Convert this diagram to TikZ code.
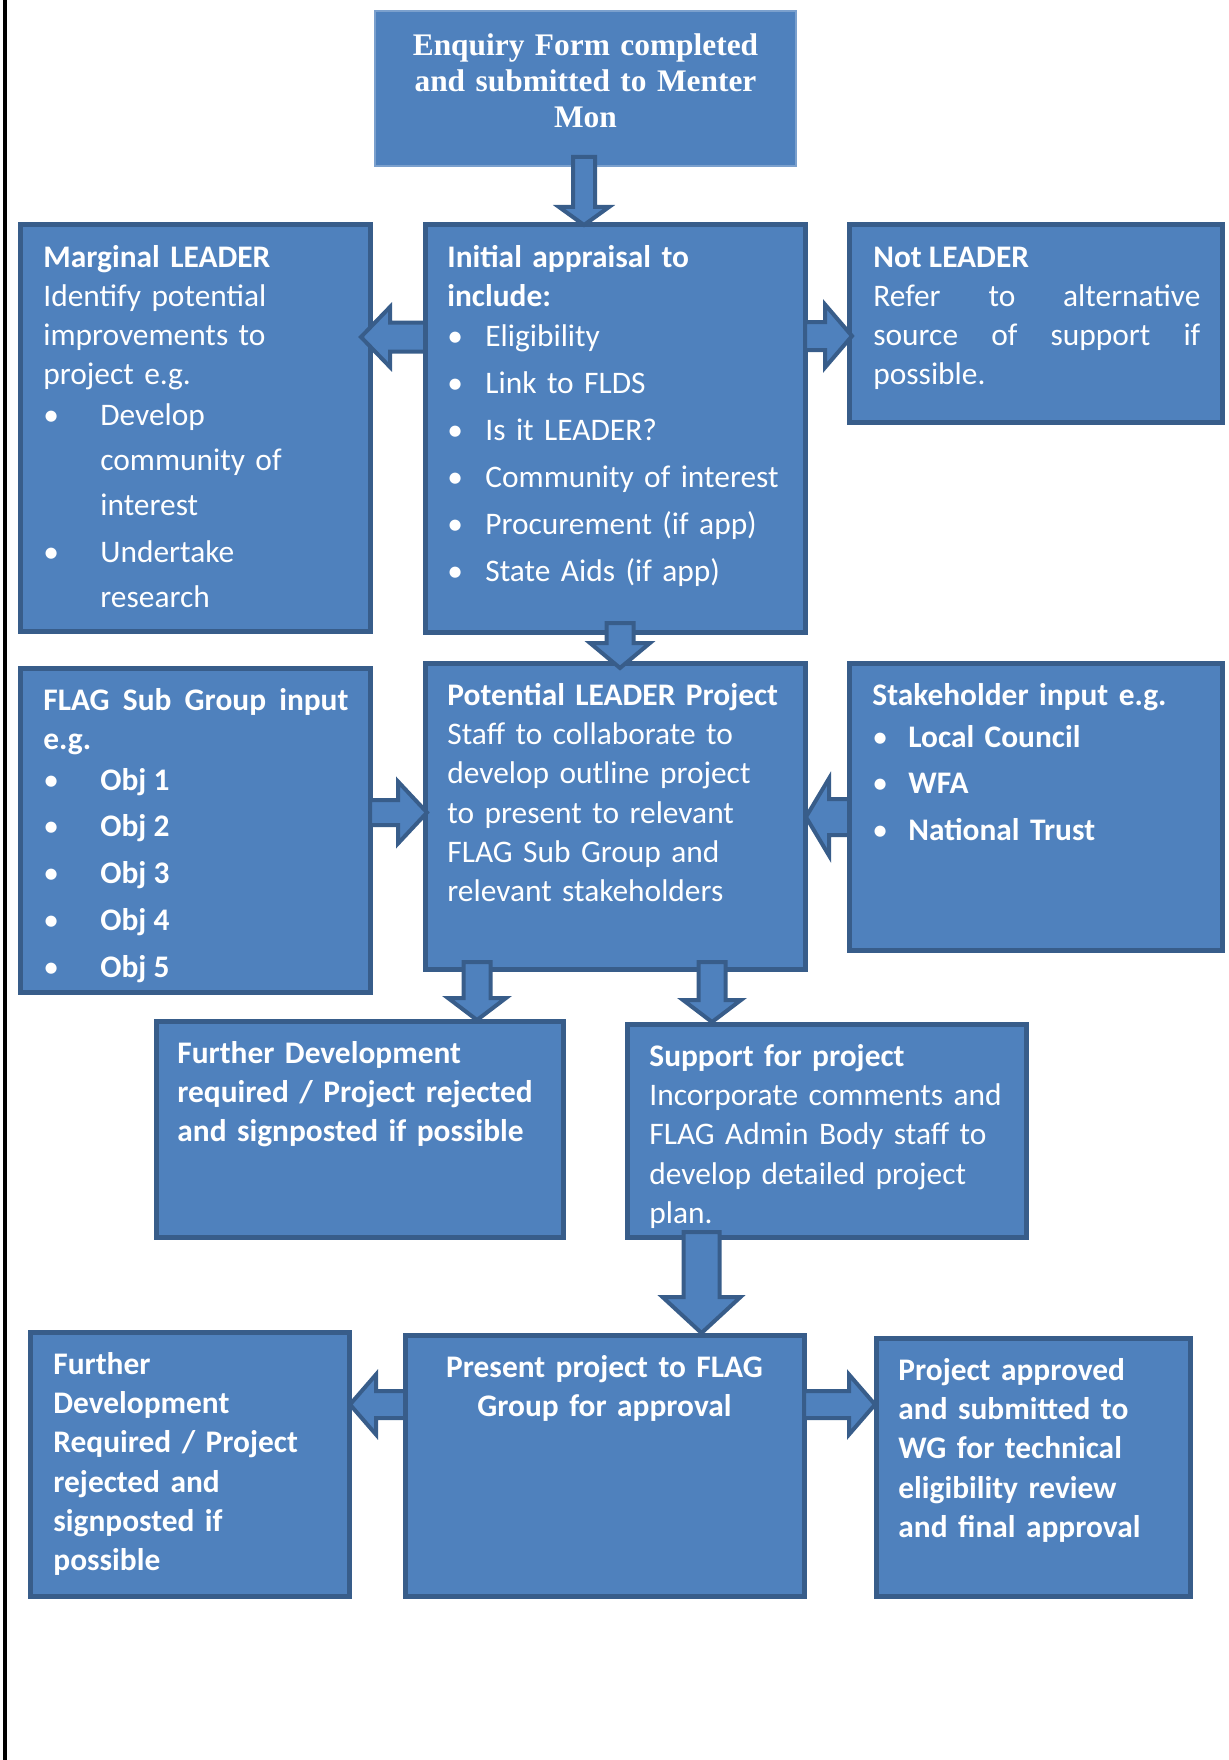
\documentclass[tikz,border=0pt]{standalone}
\usepackage{fontspec}
\setmainfont{Carlito}
\newfontfamily\timesfont{Liberation Serif}
\usetikzlibrary{calc,fit}

\definecolor{boxfill}{HTML}{4F81BD}
\definecolor{boxline}{HTML}{385D8A}

\newcommand{\bul}[2]{\makebox[#1][l]{•}#2}
\newcommand{\blockarrow}[5]{%
  \draw[barrow] ($(#1)!#3!90:(#2)$) -- ($(#2)!#5!(#1)!#3!90:(#2)$) -- ($(#2)!#5!(#1)!#4!90:(#2)$) -- (#2)
    -- ($(#2)!#5!(#1)!#4!-90:(#2)$) -- ($(#2)!#5!(#1)!#3!-90:(#2)$) -- ($(#1)!#3!-90:(#2)$) -- cycle;}

\tikzset{
  box/.style={draw=boxline, fill=boxfill, line width=2.5pt, inner sep=0pt, outer sep=0pt},
  txt/.style={anchor=north west, inner sep=0pt, text=white, align=left, font=\fontsize{15.7}{19.6}\selectfont},
  barrow/.style={draw=boxline, fill=boxfill, line width=2pt, line join=miter},
}

\begin{document}
\begin{tikzpicture}[x=0.5pt,y=-0.5pt] %Project flow
            \useasboundingbox (0,0) rectangle (1229,1760);
            \draw[line width=2pt] (5,0) -- (5,1760);

            \node[box, draw=boxfill!75!white, line width=0.75pt, fit={(375,11) (796,166)}] (enq) {};
            \node[box, fit={(20,225) (370,631)}] (marg) {};
            \node[box, fit={(425,225) (805,632)}] (init) {};
            \node[box, fit={(849,225) (1222.5,422)}] (notl) {};

            \node[box, fit={(20,668) (370,992)}] (flag) {};
            \node[box, fit={(425,663) (805,969)}] (pot) {};
            \node[box, fit={(849,663) (1222.5,950.5)}] (stake) {};

            \node[box, fit={(156,1021) (563,1237)}] (fd1) {};
            \node[box, fit={(627,1024) (1026,1237)}] (supp) {};

            \node[box, fit={(30,1332) (349,1596)}] (fd2) {};
            \node[box, fit={(405,1335) (804,1596)}] (pres) {};
            \node[box, fit={(876,1338) (1190,1596)}] (appr) {};

            \node[txt, anchor=north, align=center, text width=205pt, font=\timesfont\bfseries\fontsize{15.7}{18}\selectfont] (enqt) at (enq.north)
                {\rule{0pt}{22pt}Enquiry Form completed\\and submitted to Menter\\Mon};

            \node[txt, text width=164pt] (margt) at ($(marg.north west)+(23,0)$)
                {\rule{0pt}{21pt}\textbf{Marginal LEADER}\\Identify potential\\improvements to\\project e.g.\\[0.6pt]
                 \bul{28.5pt}{Develop}\\[2.8pt]\hspace*{28.5pt}community of\\[2.8pt]\hspace*{28.5pt}interest\\[4pt]
                 \bul{28.5pt}{Undertake}\\[2.8pt]\hspace*{28.5pt}research};

            \node[txt, text width=179pt] (initt) at ($(init.north west)+(22,0)$)
                {\rule{0pt}{21pt}\textbf{Initial appraisal to}\\\textbf{include:}\\[0.6pt]
                 \bul{19pt}{Eligibility}\\[3.8pt]\bul{19pt}{Link to FLDS}\\[3.8pt]\bul{19pt}{Is it LEADER?}\\[3.8pt]
                 \bul{19pt}{Community of interest}\\[3.8pt]\bul{19pt}{Procurement (if app)}\\[3.8pt]\bul{19pt}{State Aids (if app)}};

            \node[txt, align=justify, text width=163.5pt] (notlt) at ($(notl.north west)+(24,0)$)
                {\rule{0pt}{21pt}\textbf{Not LEADER}\\Refer to alternative\linebreak source of support if\linebreak possible.};

            \node[txt, align=justify, text width=152.5pt] (flagt) at ($(flag.north west)+(23,0)$)
                {\rule{0pt}{21pt}\textbf{FLAG Sub Group input\linebreak e.g.}\\[0.6pt]
                 \bul{28.5pt}{\textbf{Obj 1}}\\[3.8pt]\bul{28.5pt}{\textbf{Obj 2}}\\[3.8pt]\bul{28.5pt}{\textbf{Obj 3}}\\[3.8pt]
                 \bul{28.5pt}{\textbf{Obj 4}}\\[3.8pt]\bul{28.5pt}{\textbf{Obj 5}}};

            \node[txt, text width=179pt] (pott) at ($(pot.north west)+(22,0)$)
                {\rule{0pt}{21pt}\textbf{Potential LEADER Project}\\Staff to collaborate to\\develop outline project\\to present to relevant\\FLAG Sub Group and\\relevant stakeholders};

            \node[txt, text width=175pt] (staket) at ($(stake.north west)+(23,0)$)
                {\rule{0pt}{21pt}\textbf{Stakeholder input e.g.}\\[1.2pt]
                 \bul{18pt}{\textbf{Local Council}}\\[3.8pt]\bul{18pt}{\textbf{WFA}}\\[3.8pt]\bul{18pt}{\textbf{National Trust}}};

            \node[txt, text width=192pt] (fd1t) at ($(fd1.north west)+(21,0)$)
                {\rule{0pt}{21pt}\textbf{Further Development}\\\textbf{required / Project rejected}\\\textbf{and signposted if possible}};

            \node[txt, text width=188pt] (suppt) at ($(supp.north west)+(22,0)$)
                {\rule{0pt}{21pt}\textbf{Support for project}\\Incorporate comments and\\FLAG Admin Body staff to\\develop detailed project\\plan.};

            \node[txt, text width=148pt] (fd2t) at ($(fd2.north west)+(23,0)$)
                {\rule{0pt}{21pt}\textbf{Further}\\\textbf{Development}\\\textbf{Required / Project}\\\textbf{rejected and}\\\textbf{signposted if}\\\textbf{possible}};

            \node[txt, anchor=north, align=center, text width=190pt] (prest) at (pres.north)
                {\rule{0pt}{21pt}\textbf{Present project to FLAG}\\\textbf{Group for approval}};

            \node[txt, text width=146pt] (apprt) at ($(appr.north west)+(22,0)$)
                {\rule{0pt}{21pt}\textbf{Project approved}\\\textbf{and submitted to}\\\textbf{WG for technical}\\\textbf{eligibility review}\\\textbf{and final approval}};

            \coordinate (a1) at ($(enq.south)+(-1.5,-9)$);
            \coordinate (b1) at (a1 |- init.north);
            \coordinate (a2) at ($(init.north west)+(0,112)$);
            \coordinate (b2) at ($(a2 -| marg.east)+(-9,0)$);
            \coordinate (a3) at ($(init.north east)+(0,111)$);
            \coordinate (b3) at ($(a3 -| notl.west)+(3,0)$);
            \coordinate (a4) at ($(init.south)+(5,-9)$);
            \coordinate (b4) at ($(a4 |- pot.north)+(0,5)$);
            \coordinate (a5) at ($(flag.north east)+(0,144.5)$);
            \coordinate (b5) at ($(a5 -| pot.west)+(2,0)$);
            \coordinate (a6) at ($(stake.north west)+(0,154)$);
            \coordinate (b6) at ($(a6 -| pot.east)+(1,0)$);
            \coordinate (a7) at ($(pot.south west)+(52,-7)$);
            \coordinate (b7) at ($(a7 |- fd1.north)+(0,-1)$);
            \coordinate (a8) at ($(pot.south west)+(287,-7)$);
            \coordinate (b8) at ($(a8 |- supp.north)+(0,-2)$);
            \coordinate (a9) at ($(supp.south west)+(74.5,-5)$);
            \coordinate (b9) at ($(a9 |- pres.north)+(0,-2)$);
            \coordinate (a10) at ($(pres.north west)+(0,69.5)$);
            \coordinate (b10) at ($(a10 -| fd2.east)+(1,0)$);
            \coordinate (a11) at ($(pres.north east)+(0,69.5)$);
            \coordinate (b11) at ($(a11 -| appr.west)+(-1,0)$);

            \blockarrow{a1}{b1}{5.5pt}{12.5pt}{9pt}
            \blockarrow{a2}{b2}{7.25pt}{15pt}{14.5pt}
            \blockarrow{a3}{b3}{7pt}{15.75pt}{13.5pt}
            \blockarrow{a4}{b4}{6.75pt}{15pt}{12.5pt}
            \blockarrow{a5}{b5}{6.25pt}{15.5pt}{14.5pt}
            \blockarrow{a6}{b6}{9pt}{19.25pt}{11.5pt}
            \blockarrow{a7}{b7}{6.75pt}{14.5pt}{11pt}
            \blockarrow{a8}{b8}{6.75pt}{14.5pt}{11pt}
            \blockarrow{a9}{b9}{9pt}{19.5pt}{18pt}
            \blockarrow{a10}{b10}{6.75pt}{15pt}{13pt}
            \blockarrow{a11}{b11}{6.75pt}{15pt}{13pt}
\end{tikzpicture}
\end{document}
